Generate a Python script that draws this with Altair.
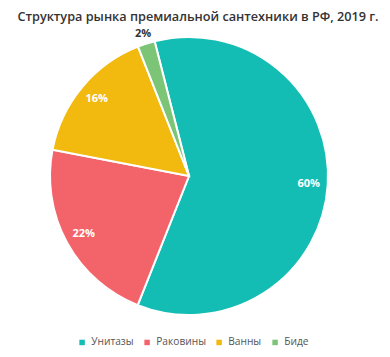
import math
import altair as alt
import pandas as pd

categories = ["Унитазы", "Раковины", "Ванны", "Биде"]
values = [60, 22, 16, 2]
labels = ["60%", "22%", "16%", "2%"]
colors = ["#14bdb4", "#f2646a", "#f2b90f", "#7cc576"]

df = pd.DataFrame({
    "category": categories,
    "value": values,
    "label": labels,
    "order": list(range(len(categories))),
})

start = -0.25
theta_scale = alt.Scale(domain=[0, 100], range=[start, start + 2 * math.pi])

base = alt.Chart(df).transform_window(
    cum="sum(value)", sort=[{"field": "order"}], frame=[None, 0]
).transform_calculate(
    s="datum.cum - datum.value", mid="datum.cum - datum.value / 2"
)

cx, cy = 181, 168

arc = base.mark_arc(outerRadius=139, stroke="white", strokeWidth=2).encode(
    theta=alt.Theta("s:Q", scale=theta_scale),
    theta2="cum:Q",
    color=alt.Color(
        "category:N",
        scale=alt.Scale(domain=categories, range=colors),
        legend=alt.Legend(
            title=None,
            orient="none",
            direction="horizontal",
            legendX=69,
            legendY=329,
            symbolType="square",
            symbolSize=30,
            symbolStrokeWidth=0,
            labelFontSize=10.2,
            labelFont="Open Sans",
            labelColor="#555555",
            columnPadding=8,
            labelOffset=4,
        ),
    ),
    x=alt.value(cx),
    y=alt.value(cy),
)

inner = base.transform_filter("datum.value >= 5").mark_text(
    fontSize=11, fontWeight="bold", font="Open Sans", color="white"
).encode(
    theta=alt.Theta("mid:Q", scale=theta_scale),
    radius=alt.value(120),
    text="label:N",
    x=alt.value(cx),
    y=alt.value(cy),
)

outer = base.transform_filter("datum.value < 5").mark_text(
    fontSize=11, fontWeight="bold", font="Open Sans", color="#333333"
).encode(
    theta=alt.Theta("mid:Q", scale=theta_scale),
    radius=alt.value(149),
    text="label:N",
    x=alt.value(cx),
    y=alt.value(cy),
)

chart = alt.layer(arc, inner, outer).properties(
    width=374,
    height=341,
    padding=0,
    autosize=alt.AutoSizeParams(type="none"),
    title=alt.TitleParams(
        "Структура рынка премиальной сантехники в РФ, 2019 г.",
        fontSize=12.7,
        font="Open Sans",
        fontWeight=600,
        color="#333333",
        anchor="middle",
        offset=-16,
        dx=3,
    ),
).configure_view(stroke=None)

chart.save("out.html", embed_options={"renderer": "svg", "actions": False})
